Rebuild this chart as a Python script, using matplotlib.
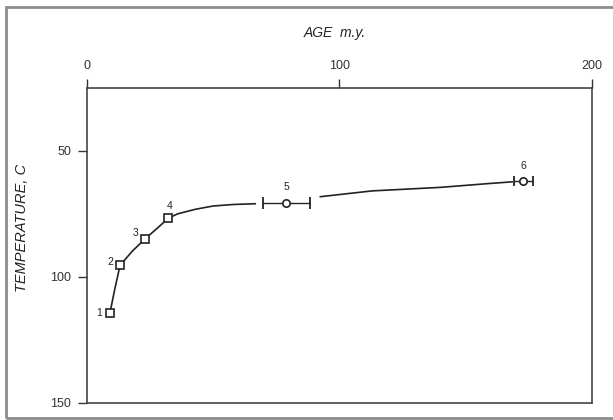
import matplotlib
matplotlib.use("Agg")
import matplotlib.pyplot as plt
from matplotlib.patches import Rectangle

# data
sample_ids = ["1", "2", "3", "4", "5", "6"]
ages = [9.1, 13.1, 23.0, 32.3, 79.0, 173.0]
temps = [114.4, 95.5, 85.0, 76.7, 70.6, 61.9]
age_err = [0, 0, 0, 0, 9.3, 3.8]
marker_kind = ["s", "s", "s", "s", "o", "o"]

# hand-drawn curve (two pieces, broken at the error bar of 5)
curve1_age = [9.1, 11.0, 13.1, 18.0, 23.0, 28.0, 32.3, 36.0, 43.0, 50.0, 58.0, 66.7]
curve1_temp = [114.4, 105.0, 95.5, 89.8, 85.0, 80.6, 76.7, 75.0, 73.2, 71.9, 71.3, 71.0]
curve2_age = [92.5, 113.0, 140.0, 159.0, 168.5]
curve2_temp = [68.2, 65.9, 64.5, 63.0, 62.3]

x_ticks = [0, 100, 200]
y_ticks = [50, 100, 150]

plt.rcParams['font.family'] = ['Liberation Sans', 'DejaVu Sans']

fig = plt.figure(figsize=(6.13, 4.2), dpi=100)
fig.patch.set_facecolor("white")
# outer frame
fig.patches.append(Rectangle((6 / 613, 2 / 420), 1.2, 1 - 9 / 420,
                             transform=fig.transFigure, fill=False,
                             edgecolor="#8c8c8c", linewidth=2.0))

ax = fig.add_axes([87 / 613, 1 - 402.5 / 420, (591.5 - 87) / 613, (402.5 - 88) / 420])
ax.set_xlim(0, 200)
ax.set_ylim(150, 25)

lc = "#222222"
ax.plot(curve1_age, curve1_temp, color=lc, lw=1.2, zorder=2)
ax.plot(curve2_age, curve2_temp, color=lc, lw=1.2, zorder=2)

for a, t, e, m in zip(ages, temps, age_err, marker_kind):
    if e > 0:
        ax.errorbar([a], [t], xerr=[e], fmt='none', ecolor=lc, elinewidth=1.0,
                    capsize=4.3 if e > 5 else 3.6, capthick=1.3, zorder=3)
    ax.plot([a], [t], marker=m, markersize=5.3,
            markerfacecolor="white", markeredgecolor=lc, markeredgewidth=1.2,
            linestyle="none", zorder=4)

label_offsets = [(-7.5, 0), (-7, 2.5), (-7, 4), (1, 8.5), (0, 11), (0, 11)]
for sid, a, t, (dx, dy) in zip(sample_ids, ages, temps, label_offsets):
    ax.annotate(sid, (a, t), xytext=(dx, dy), textcoords="offset points",
                ha="center", va="center", fontsize=7.5, color=lc)

ax.xaxis.tick_top()
ax.xaxis.set_label_position("top")
ax.set_xticks(x_ticks)
ax.set_xticklabels([str(v) for v in x_ticks])
ax.set_yticks(y_ticks)
ax.set_yticklabels([str(v) for v in y_ticks])
ax.tick_params(axis="both", direction="out", length=6.5, width=1.0, colors="#333333",
               labelsize=9, pad=5)
ax.tick_params(axis="x", top=True, bottom=False)
ax.tick_params(axis="y", left=True, right=False)

for s in ax.spines.values():
    s.set_linewidth(1.2)
    s.set_color("#444444")

ax.set_xlabel("AGE  m.y.", fontsize=10, style="italic", color="#222222")
ax.xaxis.set_label_coords((335 - 87) / 504.5, (402.5 - 33) / 314.5)
ax.set_ylabel("TEMPERATURE, C", fontsize=10.5, style="italic", color="#222222")
ax.yaxis.set_label_coords((22 - 87) / 504.5, (402.5 - 228) / 314.5)
ax.yaxis.label.set_verticalalignment("center")
ax.xaxis.label.set_verticalalignment("center")

fig.savefig("out.png", dpi=100, facecolor="white")
